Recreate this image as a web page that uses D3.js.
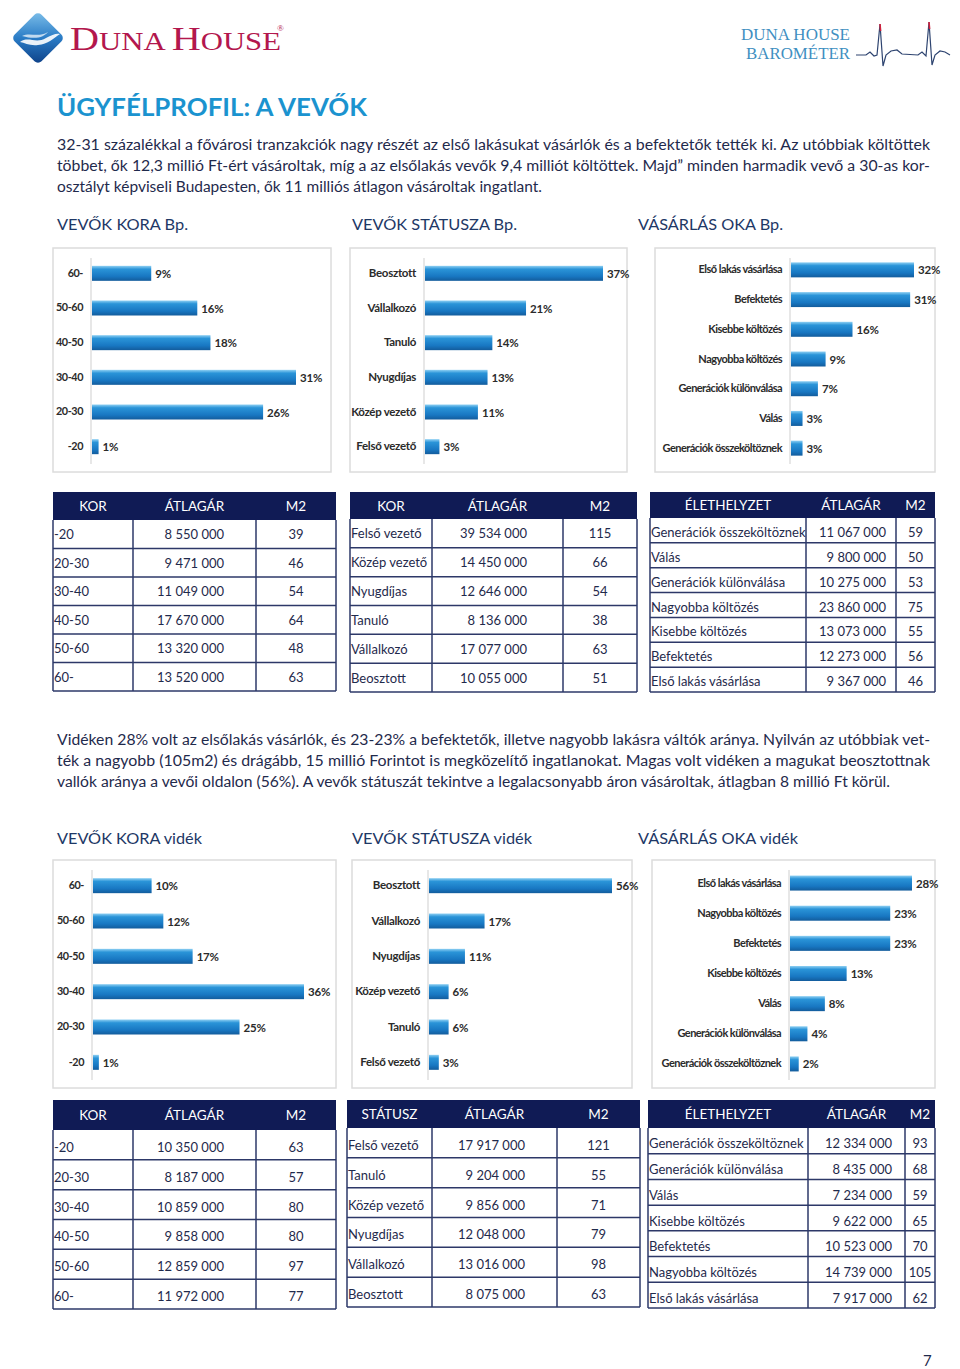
<!DOCTYPE html>
<html><head><meta charset="utf-8">
<script src="https://cdn.jsdelivr.net/npm/d3@7"></script>
<style>body{margin:0;background:#fff}svg{display:block}</style>
</head><body><svg id="c" width="960" height="1369"></svg>
<script>
// ---------- DATA ----------
const bpAgeCats = ["60-","50-60","40-50","30-40","20-30","-20"];
const bpAgeVals = [9,16,18,31,26,1];
const bpStatusCats = ["Beosztott","Vállalkozó","Tanuló","Nyugdíjas","Közép vezető","Felső vezető"];
const bpStatusVals = [37,21,14,13,11,3];
const bpReasonCats = ["Első lakás vásárlása","Befektetés","Kisebbe költözés","Nagyobba költözés","Generációk különválása","Válás","Generációk összeköltöznek"];
const bpReasonVals = [32,31,16,9,7,3,3];
const vAgeCats = ["60-","50-60","40-50","30-40","20-30","-20"];
const vAgeVals = [10,12,17,36,25,1];
const vStatusCats = ["Beosztott","Vállalkozó","Nyugdíjas","Közép vezető","Tanuló","Felső vezető"];
const vStatusVals = [56,17,11,6,6,3];
const vReasonCats = ["Első lakás vásárlása","Nagyobba költözés","Befektetés","Kisebbe költözés","Válás","Generációk különválása","Generációk összeköltöznek"];
const vReasonVals = [28,23,23,13,8,4,2];

const bpAgeTableHead = ["KOR","ÁTLAGÁR","M2"];
const bpAgeTable = [["-20","8 550 000","39"],["20-30","9 471 000","46"],["30-40","11 049 000","54"],["40-50","17 670 000","64"],["50-60","13 320 000","48"],["60-","13 520 000","63"]];
const bpStatusTableHead = ["KOR","ÁTLAGÁR","M2"];
const bpStatusTable = [["Felső vezető","39 534 000","115"],["Közép vezető","14 450 000","66"],["Nyugdíjas","12 646 000","54"],["Tanuló","8 136 000","38"],["Vállalkozó","17 077 000","63"],["Beosztott","10 055 000","51"]];
const bpReasonTableHead = ["ÉLETHELYZET","ÁTLAGÁR","M2"];
const bpReasonTable = [["Generációk összeköltöznek","11 067 000","59"],["Válás","9 800 000","50"],["Generációk különválása","10 275 000","53"],["Nagyobba költözés","23 860 000","75"],["Kisebbe költözés","13 073 000","55"],["Befektetés","12 273 000","56"],["Első lakás vásárlása","9 367 000","46"]];
const vAgeTableHead = ["KOR","ÁTLAGÁR","M2"];
const vAgeTable = [["-20","10 350 000","63"],["20-30","8 187 000","57"],["30-40","10 859 000","80"],["40-50","9 858 000","80"],["50-60","12 859 000","97"],["60-","11 972 000","77"]];
const vStatusTableHead = ["STÁTUSZ","ÁTLAGÁR","M2"];
const vStatusTable = [["Felső vezető","17 917 000","121"],["Tanuló","9 204 000","55"],["Közép vezető","9 856 000","71"],["Nyugdíjas","12 048 000","79"],["Vállalkozó","13 016 000","98"],["Beosztott","8 075 000","63"]];
const vReasonTableHead = ["ÉLETHELYZET","ÁTLAGÁR","M2"];
const vReasonTable = [["Generációk összeköltöznek","12 334 000","93"],["Generációk különválása","8 435 000","68"],["Válás","7 234 000","59"],["Kisebbe költözés","9 622 000","65"],["Befektetés","10 523 000","70"],["Nagyobba költözés","14 739 000","105"],["Első lakás vásárlása","7 917 000","62"]];

const para1 = ["32-31 százalékkal a fővárosi tranzakciók nagy részét az első lakásukat vásárlók és a befektetők tették ki. Az utóbbiak költöttek",
"többet, ők 12,3 millió Ft-ért vásároltak, míg a az elsőlakás vevők 9,4 milliót költöttek. Majd” minden harmadik vevő a 30-as kor-",
"osztályt képviseli Budapesten, ők 11 milliós átlagon vásároltak ingatlant."];
const para2 = ["Vidéken 28% volt az elsőlakás vásárlók, és 23-23% a befektetők, illetve nagyobb lakásra váltók aránya. Nyilván az utóbbiak vet-",
"ték a nagyobb (105m2) és drágább, 15 millió Forintot is megközelítő ingatlanokat. Magas volt vidéken a magukat beosztottnak",
"vallók aránya a vevői oldalon (56%). A vevők státuszát tekintve a legalacsonyabb áron vásároltak, átlagban 8 millió Ft körül."];

// ---------- DRAW ----------
const svg = d3.select("#c");
const NAVY = "#1f2a4c";
const FONT = "Lato, 'Open Sans', sans-serif";
const defs = svg.append("defs");
const bg = defs.append("linearGradient").attr("id","barGrad").attr("x1",0).attr("y1",0).attr("x2",0).attr("y2",1);
[[0,"#8fd0f3"],[0.22,"#2a94d8"],[0.7,"#1877c2"],[1,"#135c9c"]].forEach(s=>bg.append("stop").attr("offset",s[0]).attr("stop-color",s[1]));
const lg = defs.append("linearGradient").attr("id","logoGrad").attr("x1",0).attr("y1",0).attr("x2",1).attr("y2",1);
[[0,"#7fc0ea"],[0.5,"#2a7cc6"],[1,"#0d3f86"]].forEach(s=>lg.append("stop").attr("offset",s[0]).attr("stop-color",s[1]));

// Logo
const logo = svg.append("g");
logo.append("rect").attr("x",-19).attr("y",-19).attr("width",38).attr("height",38).attr("rx",5)
  .attr("transform","translate(38,38) rotate(45)").attr("fill","url(#logoGrad)");
logo.append("path").attr("d","M20,42 C28,36 36,44 46,38 C52,35 56,33 60,34 C54,38 48,44 38,45 C30,46 25,43 20,42 Z").attr("fill","#fff").attr("opacity",0.9);
logo.append("path").attr("d","M22,36 C30,32 38,38 48,32 C44,37 36,40 22,36 Z").attr("fill","#fff").attr("opacity",0.7);
const lt = logo.append("text").attr("x",70).attr("y",50).attr("fill","#b3174d")
  .attr("font-family","'Liberation Serif','DejaVu Serif',serif").attr("textLength",211).attr("lengthAdjust","spacingAndGlyphs");
lt.append("tspan").attr("font-size",34).text("D");
lt.append("tspan").attr("font-size",26).text("UNA ");
lt.append("tspan").attr("font-size",34).text("H");
lt.append("tspan").attr("font-size",26).text("OUSE");
logo.append("text").attr("x",277).attr("y",31).attr("font-size",9).attr("fill","#b3174d").attr("font-family","serif").text("®");

// Barometer
svg.append("text").attr("x",741).attr("y",40).attr("font-size",17).attr("fill","#3f8fc1")
  .attr("font-family","'Liberation Serif',serif").attr("textLength",109).attr("lengthAdjust","spacingAndGlyphs").text("DUNA HOUSE");
svg.append("text").attr("x",746).attr("y",59).attr("font-size",17).attr("fill","#3f8fc1")
  .attr("font-family","'Liberation Serif',serif").attr("textLength",104).attr("lengthAdjust","spacingAndGlyphs").text("BAROMÉTER");
svg.append("path").attr("d","M856,55 L866,55 L870,52 L874,56 L877,55 L880,24 L883,66 L886,55 L891,51 L897,50 L902,54 L918,55 L922,52 L926,56 L929,22 L932,65 L935,55 L940,51 L945,52 L950,55")
  .attr("fill","none").attr("stroke","#2e4470").attr("stroke-width",1.2);
svg.append("line").attr("x1",880).attr("y1",24).attr("x2",880.6).attr("y2",31).attr("stroke","#d0203c").attr("stroke-width",1.6);
svg.append("line").attr("x1",929).attr("y1",22).attr("x2",929.6).attr("y2",29).attr("stroke","#d0203c").attr("stroke-width",1.6);

// Title
svg.append("text").attr("x",57).attr("y",116).attr("font-size",24).attr("font-weight","bold")
  .attr("fill","#1b93cf").attr("font-family",FONT).attr("textLength",310).attr("lengthAdjust","spacingAndGlyphs")
  .text("ÜGYFÉLPROFIL: A VEVŐK");

function para(lines, ys, widths, size) {
  lines.forEach((l,i)=>{
    svg.append("text").attr("x",57).attr("y",ys[i]).attr("font-size",size).attr("fill",NAVY)
      .attr("font-family",FONT).attr("textLength",widths[i]).attr("lengthAdjust","spacingAndGlyphs").text(l);
  });
}
para(para1,[150,171,192],[873,873,485],15.5);
para(para2,[745,766,787],[873,873,833],15.5);

function head(txt, x, y, w) {
  svg.append("text").attr("x",x).attr("y",y).attr("font-size",16).attr("fill","#1e3866")
    .attr("font-family",FONT).attr("textLength",w).attr("lengthAdjust","spacingAndGlyphs").text(txt);
}
head("VEVŐK KORA Bp.",57,230,131);
head("VEVŐK STÁTUSZA Bp.",352,230,165);
head("VÁSÁRLÁS OKA Bp.",638,230,145);
head("VEVŐK KORA vidék",57,844,145);
head("VEVŐK STÁTUSZA vidék",352,844,180);
head("VÁSÁRLÁS OKA vidék",638,844,160);

function barPanel(cfg, cats, vals) {
  const g = svg.append("g");
  g.append("rect").attr("x",cfg.x).attr("y",cfg.y).attr("width",cfg.w).attr("height",cfg.h)
    .attr("fill","#fff").attr("stroke","#dcdcdc").attr("stroke-width",1.5);
  const y = d3.scaleBand().domain(cats).range([cfg.y0,cfg.y1]);
  const x = d3.scaleLinear().domain([0,d3.max(vals)]).range([cfg.ax+1,cfg.xEnd]);
  g.append("line").attr("x1",cfg.ax).attr("x2",cfg.ax).attr("y1",cfg.y+10).attr("y2",cfg.y+cfg.h-8)
    .attr("stroke","#cfcfcf").attr("stroke-width",1);
  const ax = g.append("g").attr("transform",`translate(${cfg.ax},0)`)
    .call(d3.axisLeft(y).tickSize(0).tickPadding(cfg.pad||8));
  ax.select(".domain").remove();
  ax.selectAll("text").attr("font-family",FONT).attr("font-size",cfg.fs||11.5).attr("font-weight","bold")
    .attr("fill","#2b2b2b").attr("letter-spacing",cfg.ls||-0.3);
  const data = cats.map((c,i)=>({c,v:vals[i]}));
  g.selectAll(".bar").data(data).enter().append("rect")
    .attr("x",x(0)).attr("y",d=>y(d.c)+y.bandwidth()/2-7.5).attr("width",d=>x(d.v)-x(0)).attr("height",15)
    .attr("fill","url(#barGrad)");
  g.selectAll(".vl").data(data).enter().append("text")
    .attr("x",d=>x(d.v)+4).attr("y",d=>y(d.c)+y.bandwidth()/2+4.5)
    .attr("font-family",FONT).attr("font-size",11.5).attr("font-weight","bold").attr("fill","#2b2b2b")
    .attr("letter-spacing",-0.2).text(d=>d.v+"%");
}
barPanel({x:53,y:248,w:278,h:224,ax:91,xEnd:296,y0:256,y1:464,fs:10.8,ls:-0.4}, bpAgeCats, bpAgeVals);
barPanel({x:350,y:248,w:277,h:224,ax:424,xEnd:603,y0:256,y1:464}, bpStatusCats, bpStatusVals);
barPanel({x:655,y:248,w:280,h:224,ax:790,xEnd:914,y0:255,y1:463,fs:11,ls:-0.55}, bpReasonCats, bpReasonVals);
barPanel({x:53,y:860,w:283,h:228,ax:92,xEnd:304,y0:868,y1:1080,fs:10.8,ls:-0.4}, vAgeCats, vAgeVals);
barPanel({x:352,y:860,w:280,h:228,ax:428,xEnd:612,y0:868,y1:1080}, vStatusCats, vStatusVals);
barPanel({x:652,y:860,w:283,h:228,ax:789,xEnd:912,y0:868,y1:1079,fs:11,ls:-0.55}, vReasonCats, vReasonVals);

function table(cfg, headers, rows) {
  const g = svg.append("g");
  const [x0,c1,c2,x3] = cfg.cols;
  g.append("rect").attr("x",x0).attr("y",cfg.hy0).attr("width",x3-x0).attr("height",cfg.hy1-cfg.hy0).attr("fill","#101b55");
  const centers = [(x0+c1)/2,(c1+c2)/2,(c2+x3)/2];
  headers.forEach((h,i)=>{
    g.append("text").attr("x",centers[i]).attr("y",(cfg.hy0+cfg.hy1)/2+5).attr("text-anchor","middle")
      .attr("font-family",FONT).attr("font-size",13.5).attr("fill","#fff").text(h);
  });
  const y = d3.scaleBand().domain(d3.range(rows.length)).range([cfg.hy1,cfg.yEnd]);
  const stroke = "#2d3868";
  rows.forEach((r,i)=>{
    g.append("line").attr("x1",x0).attr("x2",x3).attr("y1",y(i)+y.bandwidth()).attr("y2",y(i)+y.bandwidth())
      .attr("stroke",stroke).attr("stroke-width",1.5);
    const ty = y(i)+y.bandwidth()/2+5+(cfg.dy||0);
    g.append("text").attr("x",x0+1).attr("y",ty).attr("font-family",FONT).attr("font-size",13).attr("fill",NAVY).text(r[0]);
    g.append("text").attr("x",cfg.valR).attr("y",ty).attr("text-anchor","end").attr("font-family",FONT).attr("font-size",13).attr("fill",NAVY).text(r[1]);
    g.append("text").attr("x",cfg.m2x||centers[2]).attr("y",ty).attr("text-anchor","middle").attr("font-family",FONT).attr("font-size",13).attr("fill",NAVY).text(r[2]);
  });
  [x0,c1,c2,x3].forEach(xx=>{
    g.append("line").attr("x1",xx).attr("x2",xx).attr("y1",cfg.hy1).attr("y2",cfg.yEnd).attr("stroke",stroke).attr("stroke-width",1.5);
  });
}
table({cols:[53,133,256,336],hy0:492,hy1:520,yEnd:691,valR:224}, bpAgeTableHead, bpAgeTable);
table({cols:[350,432,563,637],hy0:492,hy1:519,yEnd:692,valR:527}, bpStatusTableHead, bpStatusTable);
table({cols:[650,806,896,935],hy0:492,hy1:518,yEnd:692,valR:886,dy:1.5}, bpReasonTableHead, bpReasonTable);
table({cols:[53,133,256,336],hy0:1100,hy1:1130,yEnd:1309,valR:224,dy:2}, vAgeTableHead, vAgeTable);
table({cols:[347,432,557,640],hy0:1100,hy1:1128,yEnd:1307,valR:525,dy:2}, vStatusTableHead, vStatusTable);
table({cols:[648,808,905,935],hy0:1100,hy1:1128,yEnd:1308,valR:892,dy:2.5}, vReasonTableHead, vReasonTable);

svg.append("text").attr("x",923).attr("y",1366).attr("font-family",FONT).attr("font-size",15).attr("fill",NAVY).text("7");
</script></body></html>
